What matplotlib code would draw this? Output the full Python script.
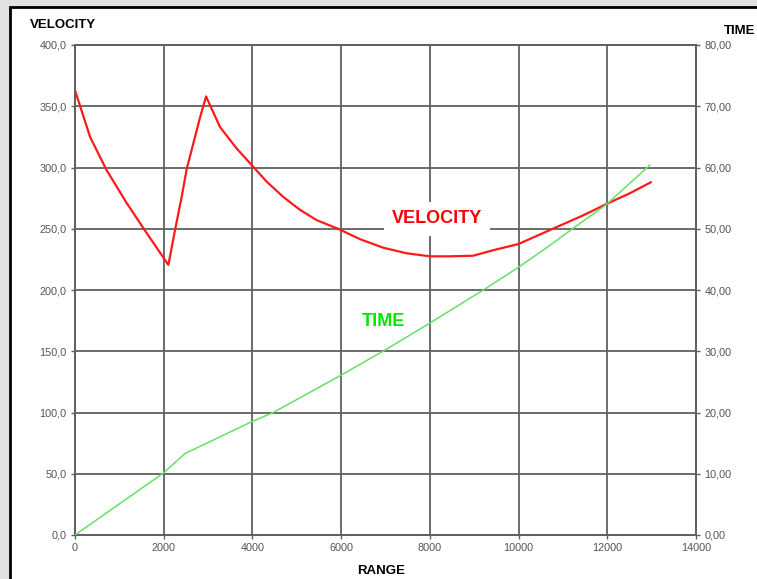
import matplotlib.pyplot as plt
from matplotlib.patches import Rectangle
from matplotlib.ticker import FuncFormatter

# velocity curve (range in m, velocity)
vel_range = [0, 340, 710, 1165, 1615, 1955, 2105, 2255, 2405, 2520, 2670, 2820, 2955,
             3080, 3270, 3645, 3945, 4320, 4695, 5070, 5450, 5960, 6425, 6950, 7475,
             8000, 8455, 8980, 9430, 9995, 10710, 11460, 11970, 12510, 12985]
velocity = [363, 325, 298, 271, 246.5, 228.5, 220.5, 249, 276, 299, 320, 341, 358,
            348, 333, 315.5, 303.5, 288.5, 276, 265.5, 257, 249.5, 241.5, 234.5, 230,
            227.5, 227.5, 228, 232.5, 237.5, 249, 261, 270, 279, 288]

# flight time curve
time_range = [0, 1990, 2480, 3985, 4470, 5975, 6990, 8000, 9205, 9955, 10710, 11235, 11970, 12960]
flight_time = [0, 10.1, 13.3, 18.5, 20.0, 26.0, 30.2, 34.6, 40.0, 43.5, 47.3, 50.1, 53.9, 60.4]

x_ticks = list(range(0, 14001, 2000))
vel_ticks = list(range(0, 401, 50))
time_ticks = list(range(0, 81, 10))

W, H = 757, 579
fig = plt.figure(figsize=(W / 100, H / 100), dpi=100)
fig.patch.set_facecolor('#e2e2e2')
fig.patches.append(Rectangle((10 / W, -0.05), 1.1, 1 - 7 / H + 0.05, transform=fig.transFigure,
                             facecolor='white', edgecolor='black', lw=2, zorder=-1))

def fx(px):
    return px / W

def fy(py):
    return 1 - py / H

ax = fig.add_axes([fx(75), fy(535), fx(696) - fx(75), fy(45) - fy(535)])
ax2 = ax.twinx()

grid_col = '#606060'
tick_col = '#555555'
lab_font = ['Liberation Sans', 'DejaVu Sans']

ax.plot(vel_range, velocity, color='#ff1a1a', lw=1.6, zorder=3,
        solid_joinstyle='round', solid_capstyle='round')
ax2.plot(time_range, flight_time, color='#66e066', lw=1.1, zorder=3,
         solid_joinstyle='round')

ax.set_xlim(0, 14000)
ax.set_ylim(0, 400)
ax2.set_ylim(0, 80)
ax.set_xticks(x_ticks)
ax.set_yticks(vel_ticks)
ax2.set_yticks(time_ticks)
ax.yaxis.set_major_formatter(FuncFormatter(lambda v, p: f"{v:.1f}".replace('.', ',')))
ax2.yaxis.set_major_formatter(FuncFormatter(lambda v, p: f"{v:.2f}".replace('.', ',')))

ax.grid(True, color=grid_col, lw=1.3)
ax.set_axisbelow(True)
for a in (ax, ax2):
    for s in a.spines.values():
        s.set_color(grid_col)
        s.set_linewidth(1.3)
    a.tick_params(labelsize=7.8, labelcolor=tick_col, color=grid_col, length=3, width=1, pad=3)
    for lbl in a.get_xticklabels() + a.get_yticklabels():
        lbl.set_family(lab_font)

ax2.set_zorder(ax.get_zorder() + 1)
ax2.patch.set_visible(False)

fig.text(fx(30), fy(25), 'VELOCITY', fontsize=9.5, fontweight='bold', family=lab_font,
         ha='left', va='center')
fig.text(fx(755), fy(31), 'TIME', fontsize=9.5, fontweight='bold', family=lab_font,
         ha='right', va='center')
fig.text(fx(381), fy(571), 'RANGE', fontsize=9.5, fontweight='bold', family=lab_font,
         ha='center', va='center')

ax.text(8160, 258, 'VELOCITY', color='#ff0000', fontsize=13, fontweight='bold', family=lab_font,
        ha='center', va='center', zorder=4,
        bbox=dict(facecolor='white', edgecolor='none', pad=6))
ax.text(6950, 174, 'TIME', color='#00e600', fontsize=13, fontweight='bold', family=lab_font,
        ha='center', va='center', zorder=4)

fig.savefig('out.png', dpi=100)
